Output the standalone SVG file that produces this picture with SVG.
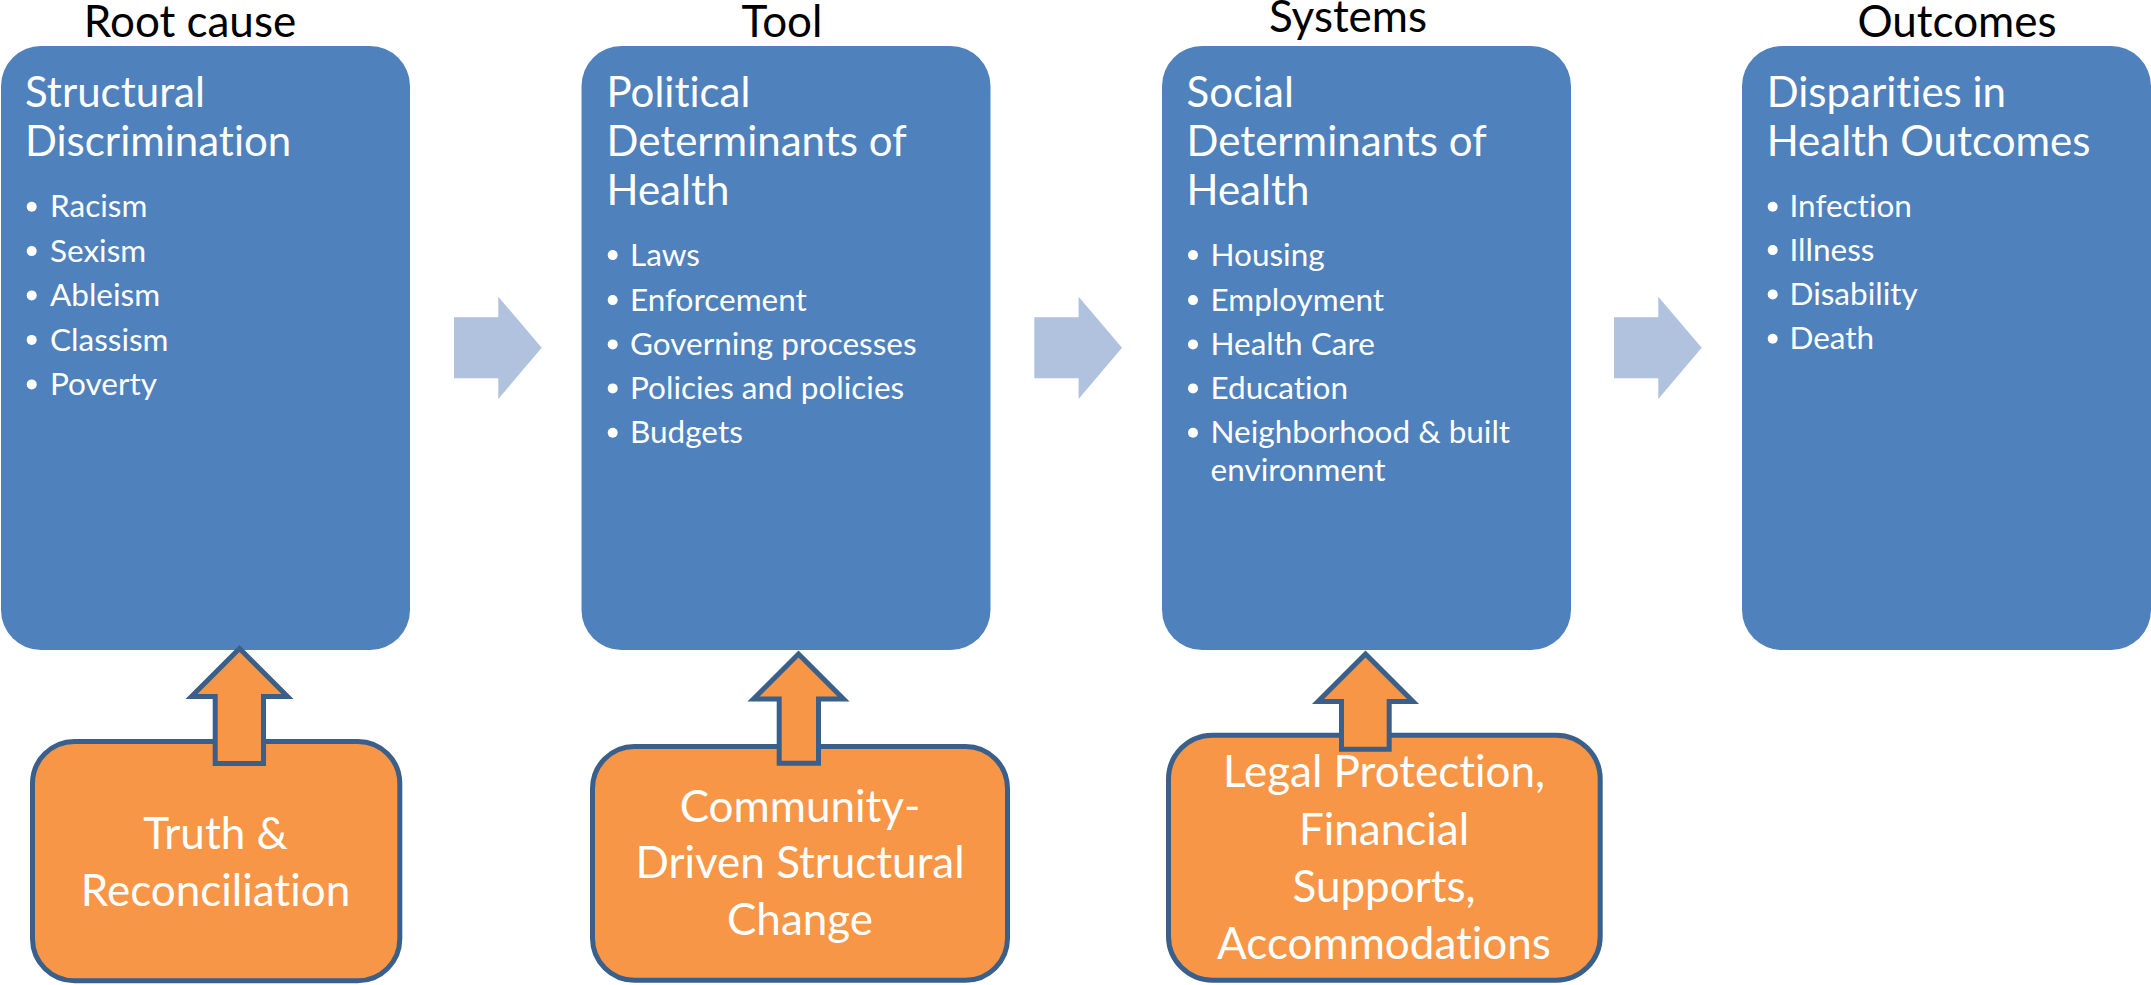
<svg xmlns="http://www.w3.org/2000/svg" width="2151" height="985" viewBox="0 0 2151 985">
<style>
text{font-family:Lato,"Open Sans","Liberation Sans",sans-serif;font-variant-ligatures:none;font-feature-settings:"liga" 0,"clig" 0,"dlig" 0}
.hdr{font-size:44px;fill:#000;text-anchor:middle}
.ttl{font-size:42px;fill:#fff}
.bul{font-size:31.5px;fill:#fff}
.org{font-size:44px;fill:#fff;text-anchor:middle}
.box{fill:#4F81BD}
.obox{fill:#F79646;stroke:#3A5F8B;stroke-width:5}
.rarr{fill:#B0C2DE}
.uarr{fill:#F79646;stroke:#3A5F8B;stroke-width:5;stroke-linejoin:miter}
.dot{fill:#fff}
</style>
<g id="headers">
<text class="hdr" x="190" y="37">Root cause</text>
<text class="hdr" x="782" y="37">Tool</text>
<text class="hdr" x="1348" y="32">Systems</text>
<text class="hdr" x="1957" y="37">Outcomes</text>
</g>
<g id="node-structural">
<rect class="box" x="1" y="46" width="409" height="604" rx="40"/>
<text class="ttl" x="25" y="107.3">Structural</text>
<text class="ttl" x="25" y="155.7">Discrimination</text>
<circle class="dot" cx="31.7" cy="206.7" r="5"/><text class="bul" x="50" y="217.3">Racism</text>
<circle class="dot" cx="31.7" cy="251.1" r="5"/><text class="bul" x="50" y="261.7">Sexism</text>
<circle class="dot" cx="31.7" cy="295.4" r="5"/><text class="bul" x="50" y="306">Ableism</text>
<circle class="dot" cx="31.7" cy="339.9" r="5"/><text class="bul" x="50" y="350.5">Classism</text>
<circle class="dot" cx="31.7" cy="384.4" r="5"/><text class="bul" x="50" y="395">Poverty</text>
</g>
<g id="node-political">
<rect class="box" x="581.5" y="46" width="409" height="604" rx="40"/>
<text class="ttl" x="606.5" y="107.3">Political</text>
<text class="ttl" x="606.5" y="155.7">Determinants of</text>
<text class="ttl" x="606.5" y="205">Health</text>
<circle class="dot" cx="612.7" cy="255.1" r="5"/><text class="bul" x="630" y="265.7">Laws</text>
<circle class="dot" cx="612.7" cy="300.1" r="5"/><text class="bul" x="630" y="310.7">Enforcement</text>
<circle class="dot" cx="612.7" cy="344.4" r="5"/><text class="bul" x="630" y="355">Governing processes</text>
<circle class="dot" cx="612.7" cy="388.4" r="5"/><text class="bul" x="630" y="399">Policies and policies</text>
<circle class="dot" cx="612.7" cy="432.7" r="5"/><text class="bul" x="630" y="443.3">Budgets</text>
</g>
<g id="node-social">
<rect class="box" x="1162" y="46" width="409" height="604" rx="40"/>
<text class="ttl" x="1186.5" y="107.3">Social</text>
<text class="ttl" x="1186.5" y="155.7">Determinants of</text>
<text class="ttl" x="1186.5" y="205">Health</text>
<circle class="dot" cx="1193" cy="255.1" r="5"/><text class="bul" x="1210.5" y="265.7">Housing</text>
<circle class="dot" cx="1193" cy="300.1" r="5"/><text class="bul" x="1210.5" y="310.7">Employment</text>
<circle class="dot" cx="1193" cy="344.4" r="5"/><text class="bul" x="1210.5" y="355">Health Care</text>
<circle class="dot" cx="1193" cy="388.4" r="5"/><text class="bul" x="1210.5" y="399">Education</text>
<circle class="dot" cx="1193" cy="432.7" r="5"/><text class="bul" x="1210.5" y="443.3">Neighborhood &amp; built</text>
<text class="bul" x="1210.5" y="480.5">environment</text>
</g>
<g id="node-disparities">
<rect class="box" x="1742" y="46" width="409" height="604" rx="40"/>
<text class="ttl" x="1766.7" y="107.3">Disparities in</text>
<text class="ttl" x="1766.7" y="155.7">Health Outcomes</text>
<circle class="dot" cx="1772.7" cy="206.7" r="5"/><text class="bul" x="1789.5" y="217.3">Infection</text>
<circle class="dot" cx="1772.7" cy="250.1" r="5"/><text class="bul" x="1789.5" y="260.7">Illness</text>
<circle class="dot" cx="1772.7" cy="294.4" r="5"/><text class="bul" x="1789.5" y="305">Disability</text>
<circle class="dot" cx="1772.7" cy="338.7" r="5"/><text class="bul" x="1789.5" y="349.3">Death</text>
</g>
<g id="node-truth">
<rect class="obox" x="32.5" y="741.5" width="367.3" height="239.3" rx="42"/>
<text class="org" x="215.5" y="849">Truth &amp;</text>
<text class="org" x="215.5" y="905.7">Reconciliation</text>
</g>
<g id="node-community">
<rect class="obox" x="592.5" y="746.5" width="415" height="233.7" rx="42"/>
<text class="org" x="800" y="821.7">Community-</text>
<text class="org" x="800" y="878.3">Driven Structural</text>
<text class="org" x="800" y="935">Change</text>
</g>
<g id="node-legal">
<rect class="obox" x="1168.5" y="735.2" width="431.7" height="245" rx="44"/>
<text class="org" x="1384" y="786.7">Legal Protection,</text>
<text class="org" x="1384" y="845">Financial</text>
<text class="org" x="1384" y="901.7">Supports,</text>
<text class="org" x="1384" y="959.3">Accommodations</text>
</g>
<g id="connectors">
<polygon class="rarr" points="454,317.3 498.3,317.3 498.3,296.7 541.7,347.7 498.3,399 498.3,378.3 454,378.3"/>
<polygon class="rarr" points="1034.3,317.3 1078.6,317.3 1078.6,296.7 1122,347.7 1078.6,399 1078.6,378.3 1034.3,378.3"/>
<polygon class="rarr" points="1614,317.3 1658.3,317.3 1658.3,296.7 1701.7,347.7 1658.3,399 1658.3,378.3 1614,378.3"/>
<polygon class="uarr" points="239.5,648.5 287.5,696.5 263.5,696.5 263.5,763.5 215.2,763.5 215.2,696.5 191.5,696.5"/>
<polygon class="uarr" points="798.5,654 843.5,699 818.5,699 818.5,763.2 779.2,763.2 779.2,699 753.5,699"/>
<polygon class="uarr" points="1365.5,654 1413,701.5 1389.2,701.5 1389.2,749.2 1341.5,749.2 1341.5,701.5 1318,701.5"/>
</g>
</svg>
